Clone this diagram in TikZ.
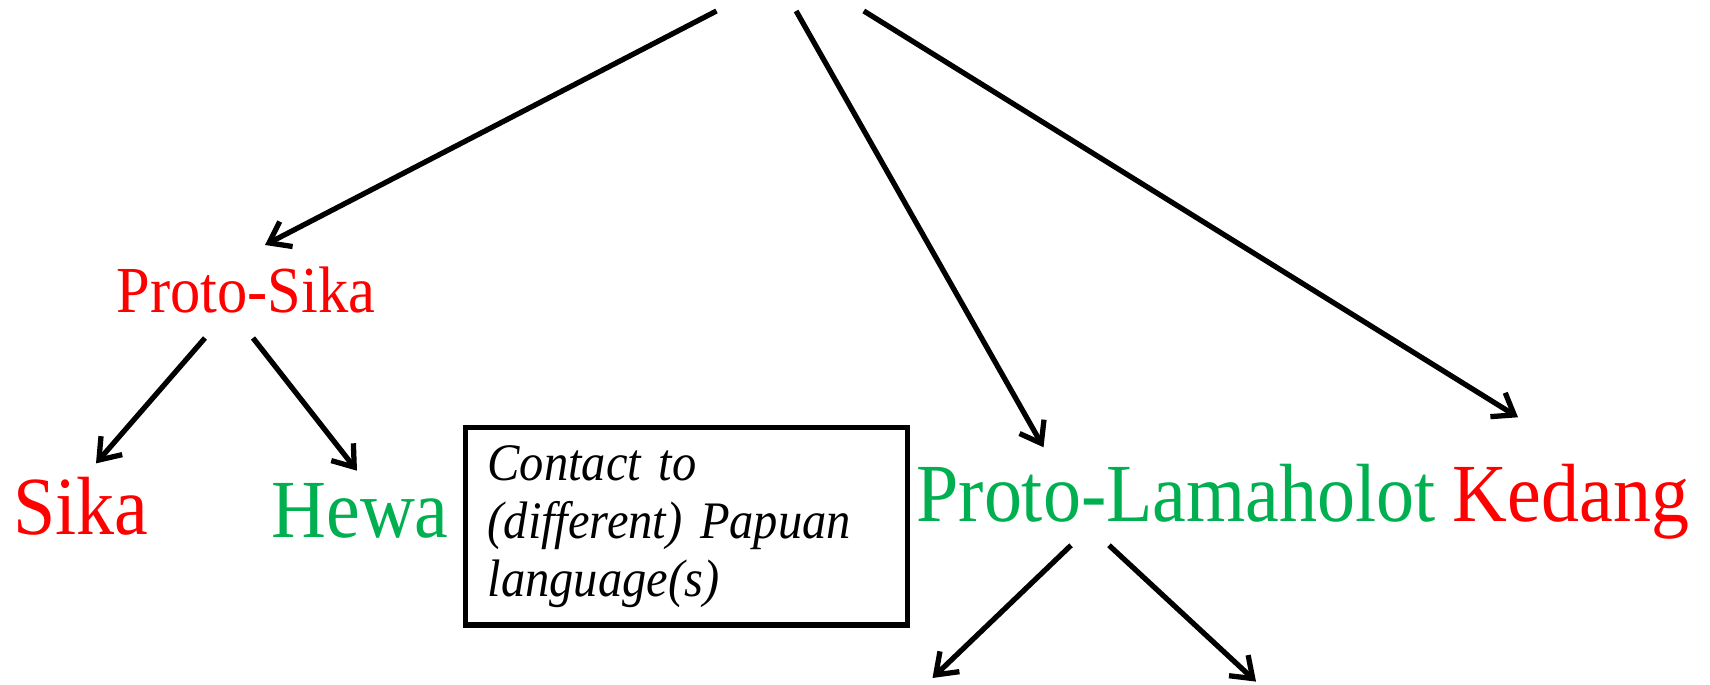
\documentclass[tikz,border=0pt]{standalone}
\usepackage{fontspec}
\setmainfont{Liberation Serif}[FakeStretch=0.92]
\usetikzlibrary{arrows.meta}
\definecolor{lred}{RGB}{255,0,0}
\definecolor{lgreen}{RGB}{0,176,80}
\begin{document}
\begin{tikzpicture}[
    arr/.style={-{Straight Barb[length=5.5pt,width=8pt]}, line width=1.5pt},
    lang/.style={inner sep=0pt, anchor=base, font=\fontsize{23.5}{28}\selectfont},
    proto/.style={inner sep=0pt, anchor=base, font=\fontsize{18.7}{22}\selectfont},
    box/.style={draw, line width=1.5pt, align=left, text width=3.98cm,
        inner xsep=0.218cm, minimum width=4.417cm, minimum height=1.974cm,
        font=\itshape\fontsize{15}{16.5}\selectfont}]
    \useasboundingbox (0,0) rectangle (17.10,6.85);

    \coordinate (r1) at (7.165,6.74);
    \coordinate (r2) at (7.961,6.74);
    \coordinate (r3) at (8.638,6.74);

    \node[proto, lred] (ps) at (2.46,3.72) {Proto-Sika};
    \node[lang, lred] (sika) at (0.81,1.506) {Sika};
    \node[lang, lgreen] (hewa) at (3.60,1.473) {Hewa};
    \node[box] (contact) at (6.866,1.588) {Contact to\\(different) Papuan\\language(s)};
    \node[lang, lgreen] (pl) at (11.76,1.637) {Proto-Lamaholot};
    \node[lang, lred] (kedang) at (15.71,1.637) {Kedang};

    \coordinate (pl1) at (9.325,0.07);
    \coordinate (pl2) at (12.56,0.034);

    \draw[arr] (r1) -- ([shift={(0.19,0.68)}]ps.base);
    \draw[arr] (r2) -- ([shift={(-1.325,0.74)}]pl.base);
    \draw[arr] (r3) -- ([shift={(-0.53,1.04)}]kedang.base);

    \draw[arr] ([shift={(-0.41,-0.25)}]ps.base) -- ([shift={(0.15,0.71)}]sika.base);
    \draw[arr] ([shift={(0.07,-0.25)}]ps.base) -- ([shift={(-0.03,0.67)}]hewa.base);

    \draw[arr] ([shift={(-1.05,-0.24)}]pl.base) -- (pl1);
    \draw[arr] ([shift={(-0.67,-0.24)}]pl.base) -- (pl2);
\end{tikzpicture}
\end{document}
